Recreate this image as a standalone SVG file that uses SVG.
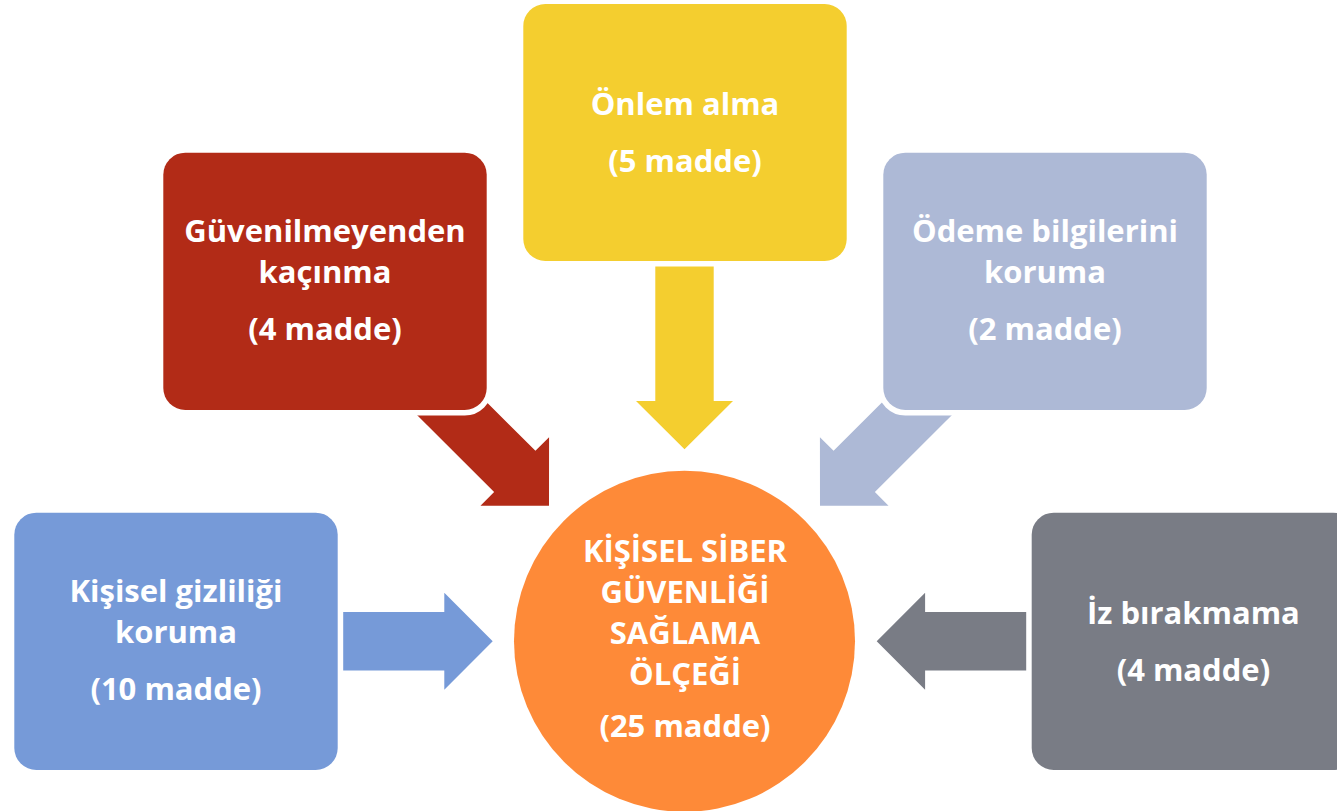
<svg xmlns="http://www.w3.org/2000/svg" width="1337" height="811" viewBox="0 0 1337 811">
<defs>
<style>
.box{stroke:#ffffff;stroke-width:11;paint-order:stroke}
.t{font-family:"Open Sans","Noto Sans","DejaVu Sans",sans-serif;font-weight:bold;font-size:31px;fill:#ffffff;text-anchor:middle}
</style>
<polygon id="arr" points="0,0 -48.4,-48.5 -48.4,-29.2 -200,-29.2 -200,29.2 -48.4,29.2 -48.4,48.5"/>
</defs>
<rect width="1337" height="811" fill="#ffffff"/>
<g id="connectors">
<use href="#arr" transform="translate(549,505.7) rotate(45)" fill="#B22B17"/>
<use href="#arr" transform="translate(684.5,449.3) rotate(90)" fill="#F4CE2F"/>
<use href="#arr" transform="translate(820,505.7) rotate(135)" fill="#ADB9D6"/>
<use href="#arr" transform="translate(492.7,641.3)" fill="#769AD8"/>
<use href="#arr" transform="translate(876.7,641.3) rotate(180)" fill="#797C85"/>
</g>
<g id="node-yellow">
<rect class="box" x="523.3" y="4" width="323.4" height="257" rx="22" fill="#F4CE2F"/>
<text class="t" x="685" y="115">Önlem alma</text>
<text class="t" x="685" y="172">(5 madde)</text>
</g>
<g id="node-red">
<rect class="box" x="163.3" y="152.7" width="323.4" height="257.3" rx="22" fill="#B22B17"/>
<text class="t" x="325" y="241.7">Güvenilmeyenden</text>
<text class="t" x="325" y="283.3">kaçınma</text>
<text class="t" x="325" y="340">(4 madde)</text>
</g>
<g id="node-periwinkle">
<rect class="box" x="883.3" y="152.7" width="323.4" height="257.3" rx="22" fill="#ADB9D6"/>
<text class="t" x="1045" y="241.7">Ödeme bilgilerini</text>
<text class="t" x="1045" y="283.3">koruma</text>
<text class="t" x="1045" y="340">(2 madde)</text>
</g>
<g id="node-blue">
<rect class="box" x="14.3" y="512.7" width="323.4" height="257.3" rx="22" fill="#769AD8"/>
<text class="t" x="176" y="601.7">Kişisel gizliliği</text>
<text class="t" x="176" y="643.3">koruma</text>
<text class="t" x="176" y="700">(10 madde)</text>
</g>
<g id="node-gray">
<rect class="box" x="1031.7" y="512.7" width="323.4" height="257.3" rx="22" fill="#797C85"/>
<text class="t" x="1193.4" y="624">İz bırakmama</text>
<text class="t" x="1193.4" y="681">(4 madde)</text>
</g>
<g id="node-center">
<circle cx="684.5" cy="641.3" r="170.5" fill="#FE8A38"/>
<text class="t" x="685" y="561.7">KİŞİSEL SİBER</text>
<text class="t" x="685" y="602.7">GÜVENLİĞİ</text>
<text class="t" x="685" y="643.5">SAĞLAMA</text>
<text class="t" x="685" y="685">ÖLÇEĞİ</text>
<text class="t" x="685" y="736.7">(25 madde)</text>
</g>
</svg>
